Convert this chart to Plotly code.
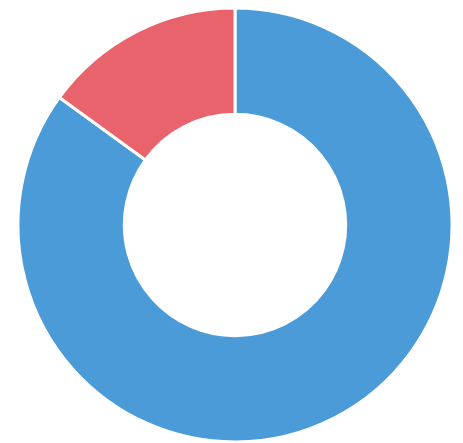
import plotly.graph_objects as go

labels = ["Blue", "Red"]
values = [85, 15]
colors = ["#4a9bd8", "#e8636b"]

fig = go.Figure(go.Pie(
    labels=labels,
    values=values,
    hole=0.51,
    sort=False,
    direction="clockwise",
    rotation=0,
    textinfo="none",
    hoverinfo="label+value",
    marker=dict(colors=colors, line=dict(color="white", width=3)),
))
fig.update_layout(
    width=463, height=443,
    margin=dict(l=9, r=18, t=0, b=9),
    showlegend=False,
    paper_bgcolor="white",
    plot_bgcolor="white",
)
fig.write_html("out.html")
